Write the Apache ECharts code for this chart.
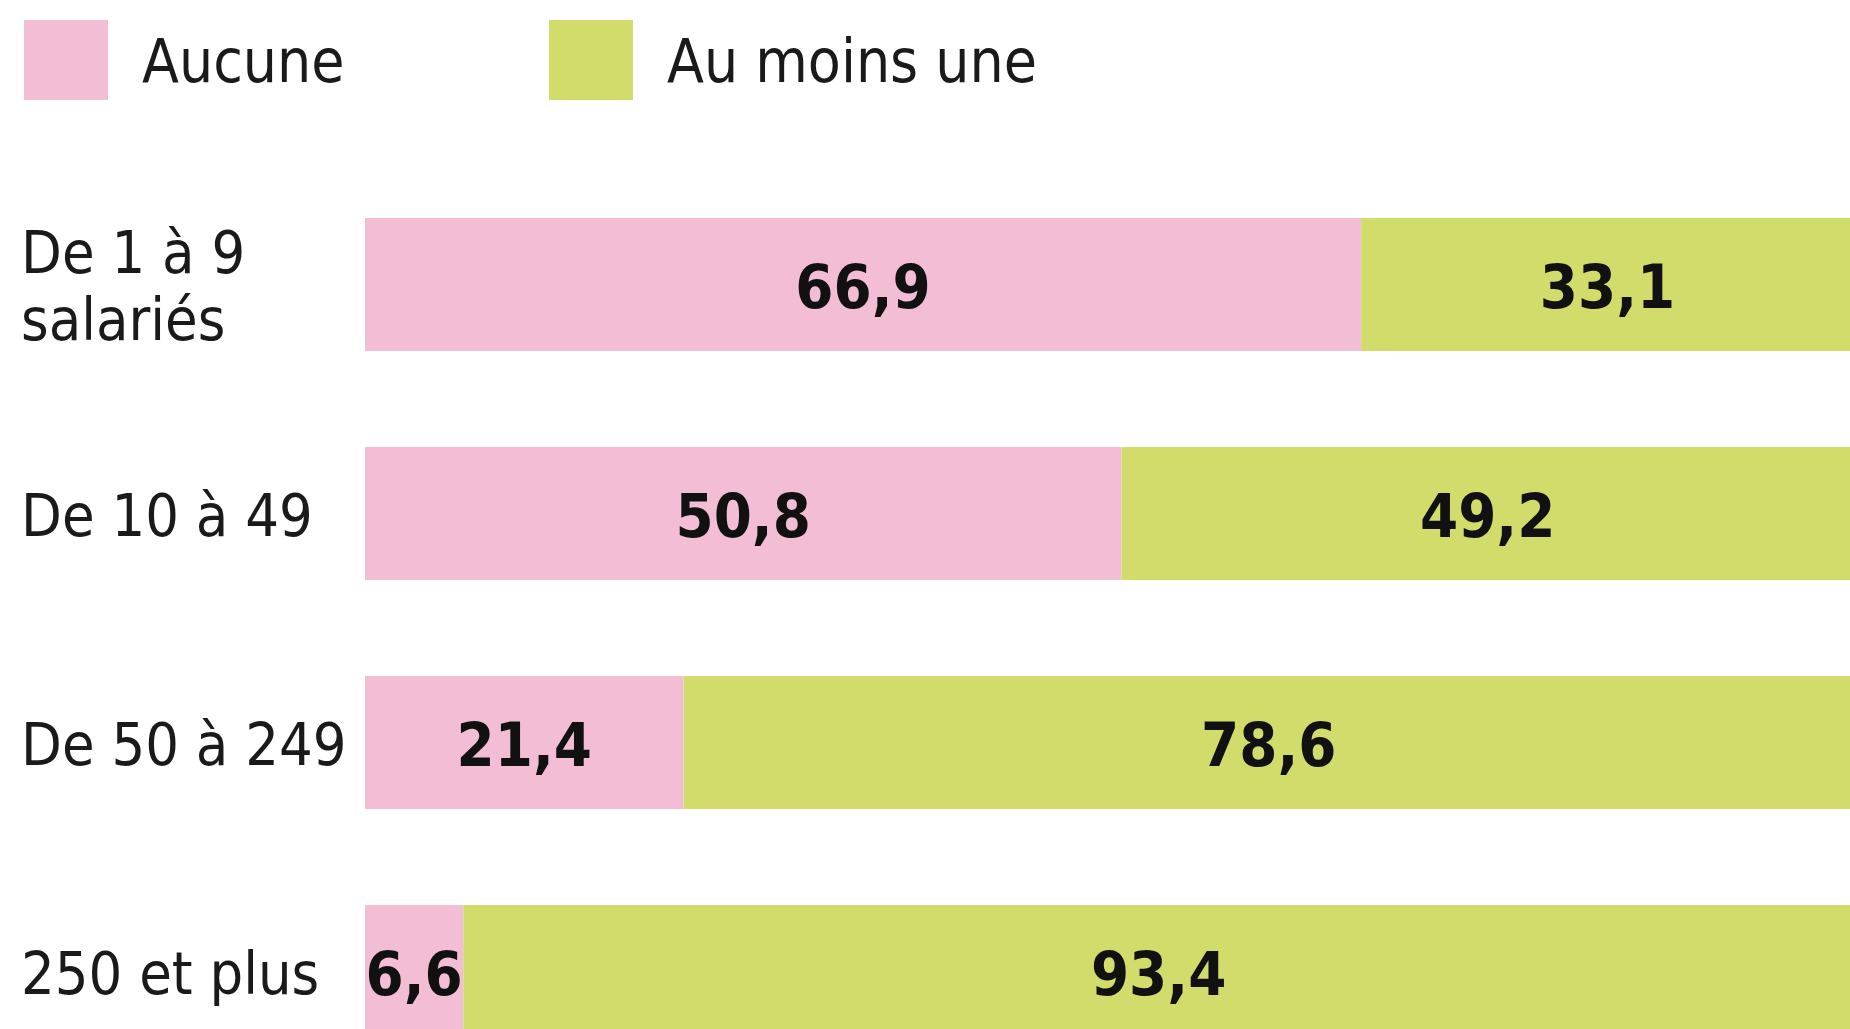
<!DOCTYPE html>
<html lang="fr">
<head>
    <meta charset="UTF-8">
    <title>Entreprises</title>
    <script src="https://cdn.jsdelivr.net/npm/echarts@6/dist/echarts.min.js"></script>
    <style>
      body { margin: 0; background: #fff; }
    </style>
</head>
<body>
    <div id="main" style="width: 1850px; height: 1029px"></div>
    <script type="text/javascript">
      const categories = ["De 1 à 9\nsalariés", "De 10 à 49", "De 50 à 249", "250 et plus"];
      const aucune = [66.9, 50.8, 21.4, 6.6];
      const auMoinsUne = [33.1, 49.2, 78.6, 93.4];
      const seriesNames = ["Aucune", "Au moins une"];

      const font = '"Liberation Sans Narrow", "DejaVu Sans Condensed", "Liberation Sans", sans-serif';
      const fmt = (p) => String(p.value).replace(".", ",");
      // wrap each line in a rich token so it can be pushed down a little
      const wrap = (s) => s.split("\n").map((l) => "{t|" + l + "}").join("\n");

      let myChart = echarts.init(document.getElementById("main"));

      let valueLabel = {
        show: true,
        position: "inside",
        offset: [0, 8],
        formatter: fmt,
        color: "#111",
        fontFamily: font,
        fontWeight: "bold",
        fontSize: 61
      };

      let legendText = {
        fontFamily: font, fontSize: 60, color: "#1a1a1a",
        rich: { t: { fontFamily: font, fontSize: 60, color: "#1a1a1a", lineHeight: 60, padding: [12, 0, 0, 29] } }
      };

      let options = {
        animation: false,
        legend: [
          { data: [seriesNames[0]], left: 24, top: 20, padding: 0, itemWidth: 84, itemHeight: 80, icon: "rect", formatter: wrap, textStyle: legendText },
          { data: [seriesNames[1]], left: 549, top: 20, padding: 0, itemWidth: 84, itemHeight: 80, icon: "rect", formatter: wrap, textStyle: legendText }
        ],
        grid: { left: 365, right: -4, top: 170, height: 916, outerBoundsMode: "none" },
        xAxis: { type: "value", min: 0, max: 100, show: false },
        yAxis: {
          type: "category",
          data: categories,
          inverse: true,
          axisLine: { show: false },
          axisTick: { show: false },
          axisLabel: {
            align: "left",
            margin: 344,
            formatter: wrap,
            fontFamily: font,
            fontSize: 59,
            color: "#1a1a1a",
            rich: { t: { fontFamily: font, fontSize: 59, color: "#1a1a1a", lineHeight: 67, padding: [14, 0, 0, 0] } }
          }
        },
        series: [
          {
            name: seriesNames[0],
            type: "bar",
            stack: "total",
            barCategoryGap: "42%",
            itemStyle: { color: "#F4BDD6" },
            label: valueLabel,
            data: aucune
          },
          {
            name: seriesNames[1],
            type: "bar",
            stack: "total",
            barCategoryGap: "42%",
            itemStyle: { color: "#D1DC6B" },
            label: valueLabel,
            data: auMoinsUne
          }
        ]
      };
      myChart.setOption(options);
    </script>
</body>
</html>
